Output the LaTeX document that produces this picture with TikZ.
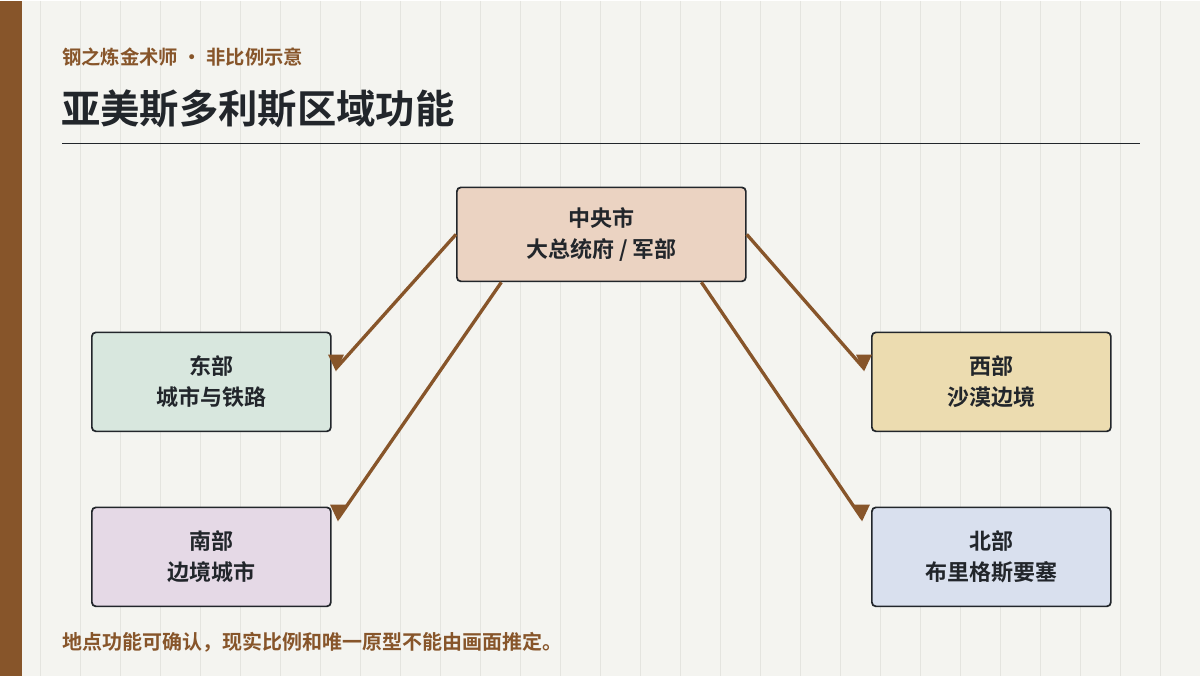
\documentclass[tikz,border=0pt]{standalone}
\usepackage{fontspec}
\setmainfont{Noto Sans CJK SC}[BoldFont={Noto Sans CJK SC Bold}]
\begin{document}
\begin{tikzpicture}[x=0.75pt,y=-0.75pt,
 box/.style={draw=ink,line width=1.3pt,rounded corners=3pt,minimum width=239*0.75pt,minimum height=99*0.75pt,font=\bfseries\fontsize{16.5pt}{23pt}\selectfont,text=ink,align=center,anchor=north west,inner sep=0},
 conn/.style={draw=brn,line width=2.5pt}]
\definecolor{ink}{HTML}{22262B}
\definecolor{brn}{HTML}{87552A}
\definecolor{bg}{HTML}{F4F4F0}
\definecolor{grid}{HTML}{E4E4DF}
\definecolor{fc}{RGB}{235,211,194}
\definecolor{fe}{RGB}{216,231,222}
\definecolor{fw}{RGB}{236,220,176}
\definecolor{fs}{RGB}{229,217,230}
\definecolor{fn}{RGB}{217,224,238}
\fill[bg] (0,0) rectangle (1200,675);
\foreach \i in {1,...,29} \draw[grid,line width=0.75pt] (40*\i,0) -- (40*\i,675);
\fill[brn] (0,0) rectangle (22,675);
\node[anchor=west,text=brn,font=\bfseries\fontsize{14.5pt}{17pt}\selectfont,inner sep=0] (sub) at (62,57) {钢之炼金术师 • 非比例示意};
\node[anchor=west,text=ink,font=\bfseries\fontsize{29.5pt}{34pt}\selectfont,inner sep=0] (title) at (61,108) {亚美斯多利斯区域功能};
\draw[ink,line width=1.2pt] (62,143) -- (1140,143);
\node[box,fill=fc,minimum width=289*0.75pt,minimum height=94*0.75pt] (c) at (456,186) {中央市\\大总统府 / 军部};
\node[box,fill=fe] (e) at (91,331) {东部\\城市与铁路};
\node[box,fill=fw] (w) at (871,331) {西部\\沙漠边境};
\node[box,fill=fs] (s) at (91,506) {南部\\边境城市};
\node[box,fill=fn] (n) at (871,506) {北部\\布里格斯要塞};
\coordinate (te) at (336,368);
\coordinate (ts) at (338,518);
\coordinate (tw) at (864,368);
\coordinate (tn) at (862,518);
\draw[conn] (c.west) -- (te);
\draw[conn] ([xshift=-100*0.75pt]c.south) -- (ts);
\draw[conn] (c.east) -- (tw);
\draw[conn] ([xshift=100*0.75pt]c.south) -- (tn);
\foreach \p in {te,ts,tw,tn}
  \fill[brn] ([shift={(-8,-14)}]\p) -- ([shift={(8,-14)}]\p) -- ([shift={(0,3)}]\p) -- cycle;
\node[anchor=west,text=brn,font=\bfseries\fontsize{15pt}{18pt}\selectfont,inner sep=0] (foot) at (62,642) {地点功能可确认，现实比例和唯一原型不能由画面推定。};
\end{tikzpicture}
\end{document}
